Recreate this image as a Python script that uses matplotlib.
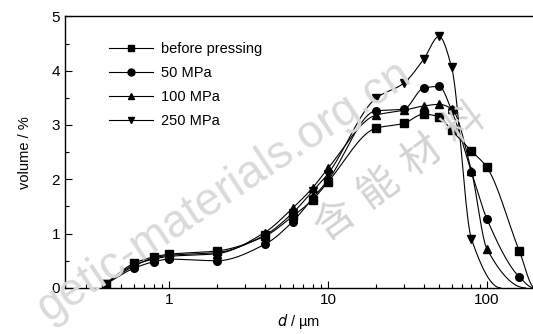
import numpy as np
import matplotlib
matplotlib.use('Agg')
import matplotlib.pyplot as plt
from matplotlib.ticker import LogLocator, FixedLocator, MultipleLocator, NullFormatter

plt.rcParams['font.family'] = ['Liberation Sans', 'DejaVu Sans']
plt.rcParams['mathtext.fontset'] = 'custom'

# particle size (um) of the measured points
d_all = [0.4, 0.6, 0.8, 1, 2, 4, 6, 8, 10, 20, 30, 40, 50, 60, 80, 100, 160]

# volume %
before = [0.08, 0.45, 0.57, 0.62, 0.68, 0.95, 1.32, 1.62, 1.95, 2.94, 3.03, 3.20, 3.15, 2.90, 2.52, 2.22, 0.68]
mpa50 = [0.07, 0.36, 0.48, 0.53, 0.50, 0.80, 1.22, 1.65, 1.98, 3.26, 3.29, 3.68, 3.71, 3.27, 2.13, 1.27, 0.20]
mpa100 = [0.08, 0.42, 0.53, 0.58, 0.63, 1.02, 1.47, 1.84, 2.20, 3.18, 3.27, 3.35, 3.38, 3.30, 2.15, 0.72]
mpa250 = [0.08, 0.40, 0.55, 0.60, 0.65, 0.97, 1.38, 1.78, 2.10, 3.49, 3.77, 4.21, 4.63, 4.06, 0.90]

# size where each fitted curve runs out to zero
tail_end = [200, 198, 175, 122]

labels = ['before pressing', '50 MPa', '100 MPa', '250 MPa']
markers = ['s', 'o', '^', 'v']

# visible part of the watermark
wm_latin = 'getic-materials.org.cn'
wm_cjk = '含能材料'


def smooth(x, y, xn):
    # monotone cubic (pchip) in log-x, flat at the far end
    x = np.log10(x)
    xn = np.log10(xn)
    y = np.asarray(y, float)
    h = np.diff(x)
    dl = np.diff(y) / h
    m = np.zeros_like(y)
    for k in range(1, len(x) - 1):
        if dl[k - 1] * dl[k] > 0:
            w1 = 2 * h[k] + h[k - 1]
            w2 = h[k] + 2 * h[k - 1]
            m[k] = (w1 + w2) / (w1 / dl[k - 1] + w2 / dl[k])
    m[0] = dl[0]
    m[-1] = 0
    i = np.clip(np.searchsorted(x, xn) - 1, 0, len(h) - 1)
    t = (xn - x[i]) / h[i]
    return ((2 * t**3 - 3 * t**2 + 1) * y[i] + (t**3 - 2 * t**2 + t) * h[i] * m[i]
            + (-2 * t**3 + 3 * t**2) * y[i + 1] + (t**3 - t**2) * h[i] * m[i + 1])


W, H = 533, 334
fig = plt.figure(figsize=(W / 100, H / 100), dpi=100)

# watermark, under everything
fig.text(414 / W, 1 - 80 / H, wm_latin, fontsize=33, color='#dadada',
         rotation=33.5, ha='right', va='baseline',
         rotation_mode='anchor', zorder=0)
for k, ch in enumerate(wm_cjk):
    fig.text((335 + 43.3 * k) / W, 1 - (220 - 32.3 * k) / H, ch, fontsize=29,
             color='#d3d3d3', rotation=36, ha='center', va='center',
             family=['Noto Sans CJK SC', 'DejaVu Sans'], fontweight='light',
             rotation_mode='anchor', zorder=0)

ax = fig.add_axes([0.122, 0.138, 0.878, 0.813])
ax.patch.set_alpha(0)

for vals, end, lab, mk in zip([before, mpa50, mpa100, mpa250], tail_end, labels, markers):
    xs = d_all[:len(vals)]
    xf = np.array(xs + [end], float)
    yf = np.array(vals + [0.0])
    xn = np.logspace(np.log10(xf[0]), np.log10(xf[-1]), 400)
    ax.plot(xn, smooth(xf, yf, xn), color='black', lw=0.8, zorder=2)
    ax.plot(xs, vals, linestyle='none', marker=mk, ms=5.5, color='black', zorder=3)
    ax.plot([], [], color='black', lw=0.8, marker=mk, ms=5, label=lab)

ax.set_xscale('log')
ax.set_xlim(0.222, 195)
ax.set_ylim(0, 5)
ax.xaxis.set_major_locator(FixedLocator([1, 10, 100]))
ax.set_xticklabels(['1', '10', '100'])
ax.xaxis.set_minor_locator(LogLocator(base=10, subs=np.arange(2, 10)))
ax.xaxis.set_minor_formatter(NullFormatter())
ax.yaxis.set_major_locator(MultipleLocator(1))
ax.yaxis.set_minor_locator(MultipleLocator(0.5))
ax.tick_params(which='both', direction='in', labelsize=11)
ax.tick_params(which='major', length=5, width=0.8)
ax.tick_params(which='minor', length=3, width=0.8)
ax.spines['right'].set_visible(False)
for s in ['left', 'top', 'bottom']:
    ax.spines[s].set_linewidth(1.0)

ax.set_xlabel('$d$ / µm', fontsize=10.5, labelpad=4)
ax.set_ylabel('volume / %', fontsize=10.5, labelpad=14)

leg = ax.legend(loc='upper left', bbox_to_anchor=(0.081, 0.928), frameon=False,
                fontsize=10.5, handlelength=3.0, handletextpad=0.6,
                labelspacing=0.7, borderaxespad=0)

fig.savefig('out.png', dpi=100)
